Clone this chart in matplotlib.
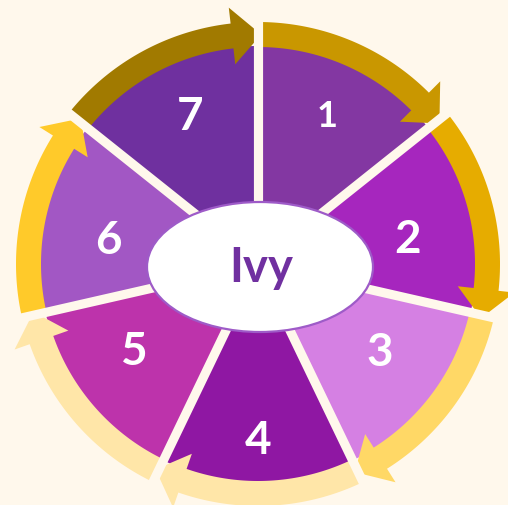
import numpy as np
import matplotlib
matplotlib.use("Agg")
import matplotlib.pyplot as plt
from matplotlib.patches import Wedge, Ellipse, Polygon

# ---- data ----
categories = ["1", "2", "3", "4", "5", "6", "7"]
values = [1, 1, 1, 1, 1, 1, 1]
center_label = "Ivy"
segment_colors = ["#8337A2", "#A626BE", "#D580E3", "#8F17A3", "#BD33AB", "#A257C4", "#6F309F"]
arrow_colors = ["#C99700", "#E6AC00", "#FFD866", "#FFE6A8", "#FFE6A8", "#FFCA2A", "#A17A00"]

# ---- style ----
BG = "#FFF8EC"
CX, CY = 258, 241
R_SEG = 218
R_IN, R_OUT = 217, 242
HEAD_IN, HEAD_OUT = 201, 258
label_r = [165, 152, 149, 173, 150, 152, 165]
label_dt = [1.0, -2.3, 3.4, 0.0, -4.2, 2.7, -1.4]
label_size = [26, 33, 33, 33, 33, 33, 33]

fig = plt.figure(figsize=(5.08, 5.05), dpi=100)
fig.patch.set_facecolor(BG)
ax = fig.add_axes([0, 0, 1, 1])
ax.set_xlim(0, 508)
ax.set_ylim(0, 505)
ax.axis("off")
ax.set_facecolor(BG)

total = float(sum(values))
spans = [360.0 * v / total for v in values]
bounds = [90.0]
for s in spans:
    bounds.append(bounds[-1] - s)

def pol(r, t):
    a = np.deg2rad(t)
    return CX + r * np.cos(a), CY + r * np.sin(a)

# segments
for i in range(len(categories)):
    t0, t1 = bounds[i], bounds[i + 1]
    ax.add_patch(Wedge((CX, CY), R_SEG, t1, t0, facecolor=segment_colors[i],
                       edgecolor="none", zorder=1))

# arrows (clockwise)
for i in range(len(categories)):
    t0, t1 = bounds[i], bounds[i + 1]
    tb = t1 + 6.5
    tt = t1 - 0.8
    outer = np.linspace(t0, tb, 60)
    inner = np.linspace(tb, t0, 60)
    pts = [pol(R_OUT, t) for t in outer]
    pts += [pol(HEAD_OUT, tb), pol((R_IN + R_OUT) / 2, tt), pol(HEAD_IN, tb)]
    pts += [pol(R_IN, t) for t in inner]
    ax.add_patch(Polygon(pts, closed=True, facecolor=arrow_colors[i],
                         edgecolor="none", zorder=2))

# gaps
for b in bounds[:-1]:
    x1, y1 = pol(270, b)
    ax.plot([CX, x1], [CY, y1], color=BG, lw=6.6, solid_capstyle="butt", zorder=3)

# labels (baseline placed so digit centre sits at the polar point)
for i, c in enumerate(categories):
    tm = (bounds[i] + bounds[i + 1]) / 2 + label_dt[i]
    x, y = pol(label_r[i], tm)
    cap = 0.72 * label_size[i] * 100 / 72
    ax.text(x, y - cap / 2, c, color="white", fontsize=label_size[i], fontweight="bold",
            family=["Lato", "DejaVu Sans"], ha="center", va="baseline", zorder=5)

# center ellipse
ax.add_patch(Ellipse((260, 238), 226, 130, facecolor="white", edgecolor="#9E5BC8",
                     lw=1.6, zorder=6))
ax.text(261, 223, center_label, color="#7030A0", fontsize=34, fontweight="bold",
        family=["Lato", "DejaVu Sans"], ha="center", va="baseline", zorder=7)

fig.savefig("out.png", dpi=100, facecolor=BG)
